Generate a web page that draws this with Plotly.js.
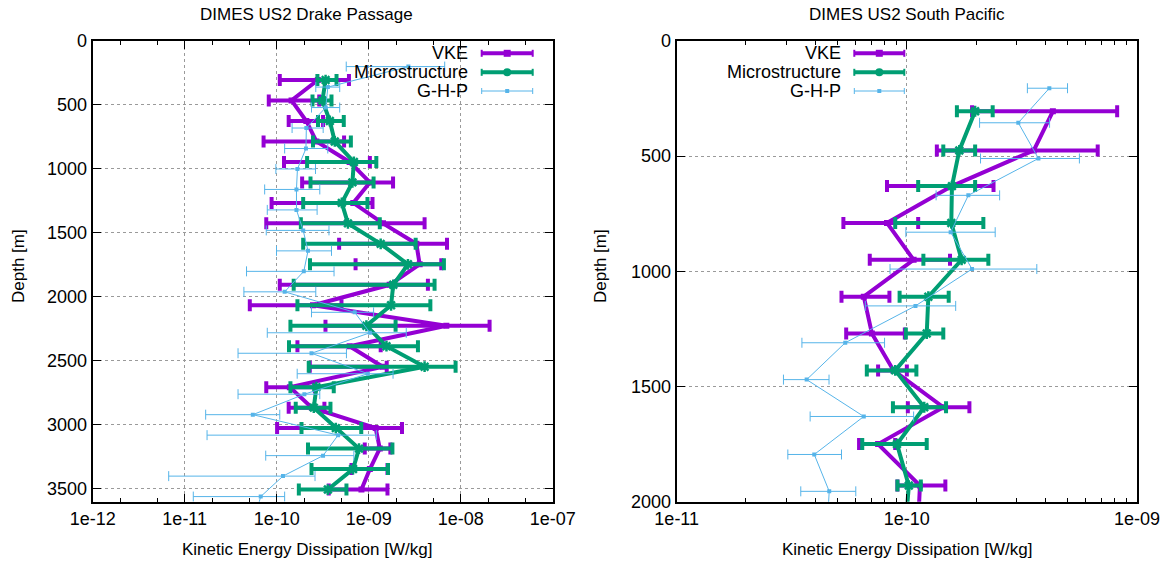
<!DOCTYPE html>
<html>
<head>
<meta charset="utf-8">
<script src="https://cdn.plot.ly/plotly-3.0.1.min.js"></script>
<style>
  html, body { margin: 0; padding: 0; background: #fff; }
  #chart { width: 1168px; height: 567px; }
</style>
</head>
<body>
<div id="chart"></div>
<script>
// ---------- Drake Passage profiles ----------
// VKE and microstructure estimates share the same depth levels
const dpDepth = [305, 465, 625, 785, 945, 1105, 1265, 1425, 1585, 1745, 1905,
                 2065, 2225, 2385, 2545, 2705, 2865, 3025, 3185, 3345, 3505];
const dpVke = [2.8e-10, 1.45e-10, 2.1e-10, 2.7e-10, 6.2e-10, 1.03e-9, 6.8e-10, 1.43e-9, 3.3e-9, 3.58e-9, 1.69e-9,
               2.48e-10, 6.98e-9, 6.2e-10, 1.42e-9, 1.39e-10, 2.41e-10, 1.19e-9, 1.32e-9, 1.03e-9, 8.34e-10];
const dpVkeLo = [1.08e-10, 8.2e-11, 1.35e-10, 7.2e-11, 1.2e-10, 1.89e-10, 8.8e-11, 7.7e-11, 4.77e-10, 7.2e-10, 1.08e-10,
                 5.1e-11, 3.39e-10, 1.68e-10, 2.29e-10, 7.7e-11, 1.35e-10, 1.01e-10, 9.06e-10, 6.5e-10, 3.68e-10];
const dpVkeHi = [6.1e-10, 2.9e-10, 3.19e-10, 5.4e-10, 1.03e-9, 1.84e-9, 1.1e-9, 4.05e-9, 7.1e-9, 6.15e-9, 4.4e-9,
                 5.06e-10, 2.06e-8, 1.35e-9, 1.57e-9, 2.6e-10, 3.3e-10, 2.3e-9, 1.72e-9, 1.6e-9, 1.6e-9];
const dpMicro = [3.4e-10, 3.14e-10, 3.78e-10, 4.28e-10, 6.9e-10, 6.65e-10, 5.1e-10, 5.95e-10, 1.35e-9, 2.67e-9, 1.85e-9,
                 1.75e-9, 9.44e-10, 1.56e-9, 4.05e-9, 2.7e-10, 2.53e-10, 4.39e-10, 7.85e-10, 6.76e-10, 3.6e-10];
const dpMicroLo = [2.77e-10, 2.45e-10, 2.81e-10, 2.48e-10, 2.14e-10, 2.33e-10, 1.94e-10, 1.83e-10, 1.94e-10, 2.3e-10, 1.53e-10,
                   1.68e-10, 1.41e-10, 1.36e-10, 2.23e-10, 1.41e-10, 1.61e-10, 1.86e-10, 2.19e-10, 2.39e-10, 1.74e-10];
const dpMicroHi = [4.47e-10, 3.94e-10, 5.36e-10, 6.4e-10, 1.21e-9, 1.13e-9, 9.7e-10, 1.32e-9, 3.24e-9, 6.57e-9, 5.2e-9,
                   4.68e-9, 1.96e-9, 3.43e-9, 8.8e-9, 4.17e-10, 3.84e-10, 8.3e-10, 1.81e-9, 1.62e-9, 5.73e-10];
// finestructure (G-H-P) estimates on their own depth levels
const dpGhpDepth = [200, 360, 520, 680, 840, 1000, 1160, 1320, 1480, 1640, 1800,
                    1960, 2120, 2280, 2440, 2600, 2760, 2920, 3080, 3240, 3400, 3560, 3720];
const dpGhp = [2.7e-9, 3.6e-10, 3.41e-10, 2.1e-10, 2.08e-10, 1.68e-10, 1.64e-10, 1.64e-10, 1.94e-10, 2.19e-10, 1.97e-10,
               1.22e-10, 7.05e-10, 1.03e-9, 2.39e-10, 9.8e-10, 2.0e-10, 5.5e-11, 4.65e-10, 3.19e-10, 1.17e-10, 6.7e-11, 5.8e-11];
const dpGhpLo = [5.7e-10, 2.66e-10, 2.39e-10, 1.47e-10, 1.22e-10, 9.8e-11, 7.4e-11, 7.9e-11, 7.7e-11, 9.95e-11, 4.7e-11,
                 4.4e-11, 2.39e-10, 7.9e-11, 3.8e-11, 1.67e-10, 3.8e-11, 1.69e-11, 1.75e-11, 7.6e-11, 6.7e-12, 1.24e-11, 5.8e-11];
const dpGhpHi = [6.7e-9, 4.84e-10, 4.84e-10, 3.2e-10, 3.59e-10, 2.64e-10, 2.94e-10, 2.75e-10, 3.7e-10, 3.94e-10, 4.2e-10,
                 2.66e-10, 1.13e-9, 2.56e-9, 5.73e-10, 1.84e-9, 2.94e-10, 1.08e-10, 1.21e-9, 6.9e-10, 2.61e-10, 1.22e-10, 5.8e-11];

// ---------- South Pacific profiles ----------
const spDepth = [305, 475, 630, 790, 950, 1110, 1270, 1430, 1590, 1750, 1930, 2090];
const spVke = [4.31e-10, 3.56e-10, 1.57e-10, 8.2e-11, 1.07e-10, 6.5e-11, 7.05e-11, 8.75e-11, 1.44e-10, 7.5e-11, 1.14e-10, 1.12e-10];
const spVkeLo = [1.92e-10, 1.35e-10, 8.2e-11, 5.3e-11, 6.9e-11, 5.2e-11, 5.45e-11, 7.5e-11, 1.01e-10, 6.2e-11, 9.1e-11, 1.12e-10];
const spVkeHi = [8.2e-10, 6.75e-10, 2.38e-10, 1.12e-10, 1.54e-10, 8.4e-11, 9.8e-11, 1.0e-10, 1.87e-10, 8.9e-11, 1.47e-10, 1.12e-10];
const spMicro = [1.98e-10, 1.69e-10, 1.57e-10, 1.56e-10, 1.73e-10, 1.24e-10, 1.22e-10, 8.9e-11, 1.19e-10, 9.06e-11, 1.02e-10, 9.9e-11];
const spMicroLo = [1.65e-10, 1.44e-10, 1.12e-10, 8.9e-11, 1.18e-10, 9.3e-11, 9.9e-11, 6.7e-11, 8.7e-11, 6.4e-11, 9.1e-11, 9.9e-11];
const spMicroHi = [2.36e-10, 1.98e-10, 1.98e-10, 2.15e-10, 2.26e-10, 1.52e-10, 1.44e-10, 1.1e-10, 1.48e-10, 1.22e-10, 1.15e-10, 9.9e-11];
const spGhpDepth = [205, 355, 510, 670, 830, 990, 1150, 1310, 1470, 1630, 1795, 1955, 2115];
const spGhp = [4.16e-10, 3.05e-10, 3.73e-10, 1.85e-10, 1.55e-10, 1.92e-10, 1.09e-10, 5.4e-11, 3.67e-11, 6.5e-11, 3.96e-11, 4.6e-11, 4.5e-11];
const spGhpLo = [3.34e-10, 2.07e-10, 2.09e-10, 1.34e-10, 9.9e-11, 8.45e-11, 6.6e-11, 3.5e-11, 2.91e-11, 3.8e-11, 3.04e-11, 3.46e-11, 4.5e-11];
const spGhpHi = [4.99e-10, 4.17e-10, 5.62e-10, 2.53e-10, 2.42e-10, 3.67e-10, 1.63e-10, 8.0e-11, 4.59e-11, 1.07e-10, 5.2e-11, 6.0e-11, 4.5e-11];

// ---------- axis labels ----------
const dpTickVals = [1e-12, 1e-11, 1e-10, 1e-9, 1e-8, 1e-7];
const dpTickText = ['1e-12', '1e-11', '1e-10', '1e-09', '1e-08', '1e-07'];
const spTickVals = [1e-11, 1e-10, 1e-9];
const spTickText = ['1e-11', '1e-10', '1e-09'];
const seriesNames = ['VKE', 'Microstructure', 'G-H-P'];

const COL_VKE = '#9400d3';
const COL_MICRO = '#009e73';
const COL_GHP = '#56b4e9';
const FONT = 'Liberation Sans, Arial, sans-serif';
const FS_TICK = 18;   // tick labels and key
const FS_TITLE = 17;  // panel and axis titles

const W = 1168, H = 567;
const px = x => x / W;
const py = y => 1 - y / H;

function profile(eps, lo, hi, depth, name, style, xa, ya) {
  return {
    type: 'scatter', mode: 'lines+markers', name: name,
    x: eps, y: depth, xaxis: xa, yaxis: ya,
    line: { color: style.color, width: style.lw },
    marker: style.marker,
    error_x: {
      type: 'data', symmetric: false,
      array: hi.map((h, i) => h - eps[i]),
      arrayminus: eps.map((v, i) => v - lo[i]),
      color: style.color, thickness: style.et, width: style.cap
    },
    showlegend: false, hoverinfo: 'skip'
  };
}

const sVke = { color: COL_VKE, lw: 4, et: 4, cap: 6,
  marker: { symbol: 'square', size: 6, color: COL_VKE } };
const sMicro = { color: COL_MICRO, lw: 4, et: 4, cap: 6,
  marker: { symbol: 'asterisk-open', size: 9, color: COL_MICRO, line: { color: COL_MICRO, width: 2.5 } } };
const sGhp = { color: COL_GHP, lw: 1, et: 1, cap: 5,
  marker: { symbol: 'square', size: 4, color: COL_GHP } };
const styles = [sVke, sMicro, sGhp];

const data = [
  profile(dpVke, dpVkeLo, dpVkeHi, dpDepth, seriesNames[0], sVke, 'x', 'y'),
  profile(dpMicro, dpMicroLo, dpMicroHi, dpDepth, seriesNames[1], sMicro, 'x', 'y'),
  profile(dpGhp, dpGhpLo, dpGhpHi, dpGhpDepth, seriesNames[2], sGhp, 'x', 'y'),
  profile(spVke, spVkeLo, spVkeHi, spDepth, seriesNames[0], sVke, 'x2', 'y2'),
  profile(spMicro, spMicroLo, spMicroHi, spDepth, seriesNames[1], sMicro, 'x2', 'y2'),
  profile(spGhp, spGhpLo, spGhpHi, spGhpDepth, seriesNames[2], sGhp, 'x2', 'y2')
];

const plotTop = 41, plotBottom = 501.7;
const yDomain = [py(plotBottom), py(plotTop)];

function xAxis(left, right, range, vals, text, minorStep, anchor) {
  return {
    type: 'log', range: range, domain: [px(left), px(right)], anchor: anchor,
    tickmode: 'array', tickvals: vals, ticktext: text,
    ticks: 'inside', ticklen: 8, tickwidth: 1, tickcolor: '#000',
    showline: true, linewidth: 2, linecolor: '#000', mirror: 'allticks',
    showgrid: true, gridcolor: '#9a9a9a', griddash: 'dot', gridwidth: 1,
    minor: { ticks: 'inside', ticklen: 4, tickwidth: 1, tickcolor: '#000', dtick: minorStep, showgrid: false },
    zeroline: false, tickfont: { family: FONT, size: FS_TICK, color: '#000' },
    fixedrange: true
  };
}
function yAxis(maxDepth, anchor) {
  return {
    range: [maxDepth, 0], domain: yDomain, anchor: anchor,
    tickmode: 'linear', tick0: 0, dtick: 500,
    ticks: 'inside', ticklen: 8, tickwidth: 1, tickcolor: '#000',
    showline: true, linewidth: 2, linecolor: '#000', mirror: 'allticks',
    showgrid: true, gridcolor: '#9a9a9a', griddash: 'dot', gridwidth: 1,
    zeroline: false, tickfont: { family: FONT, size: FS_TICK, color: '#000' },
    fixedrange: true
  };
}

const dpLeft = 92.7, dpRight = 552.7, spLeft = 676.7, spRight = 1137;

const annotations = [];
const shapes = [];
function label(text, x, y, opts) {
  annotations.push(Object.assign({
    text: text, xref: 'paper', yref: 'paper', x: px(x), y: py(y),
    showarrow: false, xanchor: 'center', yanchor: 'middle',
    font: { family: FONT, size: FS_TITLE, color: '#000' }
  }, opts || {}));
}

// panel titles and axis titles
label('DIMES US2 Drake Passage', 306, 14);
label('DIMES US2 South Pacific', 907, 14);
label('Kinetic Energy Dissipation [W/kg]', 307, 549);
label('Kinetic Energy Dissipation [W/kg]', 907, 549);
label('Depth [m]', 18, 266, { textangle: -90 });
label('Depth [m]', 600, 266, { textangle: -90 });

// key: text right-aligned, sample line with end bars and a point
function key(textRight, x0, x1) {
  const rows = [53.3, 72.3, 91];
  seriesNames.forEach((name, i) => {
    const s = styles[i];
    const yy = rows[i];
    label(name, textRight, yy, { xanchor: 'right', font: { family: FONT, size: FS_TICK, color: '#000' } });
    shapes.push({ type: 'line', xref: 'paper', yref: 'paper',
      x0: px(x0), x1: px(x1), y0: py(yy), y1: py(yy),
      line: { color: s.color, width: s.lw } });
    const capH = i === 2 ? 3 : 3.5;
    [x0, x1].forEach(xc => shapes.push({ type: 'line', xref: 'paper', yref: 'paper',
      x0: px(xc), x1: px(xc), y0: py(yy - capH), y1: py(yy + capH),
      line: { color: s.color, width: i === 2 ? 1 : 2 } }));
    const r = i === 2 ? 2 : (i === 1 ? 4 : 3.5);
    const xm = (x0 + x1) / 2;
    shapes.push({ type: i === 1 ? 'circle' : 'rect', xref: 'paper', yref: 'paper',
      x0: px(xm - r), x1: px(xm + r), y0: py(yy + r), y1: py(yy - r),
      fillcolor: s.color, line: { color: s.color, width: 0 } });
  });
}
key(470, 481.7, 532.7);
key(842.7, 854.3, 904.3);

const layout = {
  width: W, height: H,
  margin: { l: 0, r: 0, t: 0, b: 0 },
  paper_bgcolor: '#fff', plot_bgcolor: '#fff',
  showlegend: false,
  xaxis: xAxis(dpLeft, dpRight, [-12, -7], dpTickVals, dpTickText, 'D2', 'y'),
  yaxis: yAxis(3600, 'x'),
  xaxis2: xAxis(spLeft, spRight, [-11, -9], spTickVals, spTickText, 'D1', 'y2'),
  yaxis2: yAxis(2000, 'x2'),
  annotations: annotations,
  shapes: shapes,
  hovermode: false
};

Plotly.newPlot('chart', data, layout, { displayModeBar: false, staticPlot: true });
</script>
</body>
</html>
